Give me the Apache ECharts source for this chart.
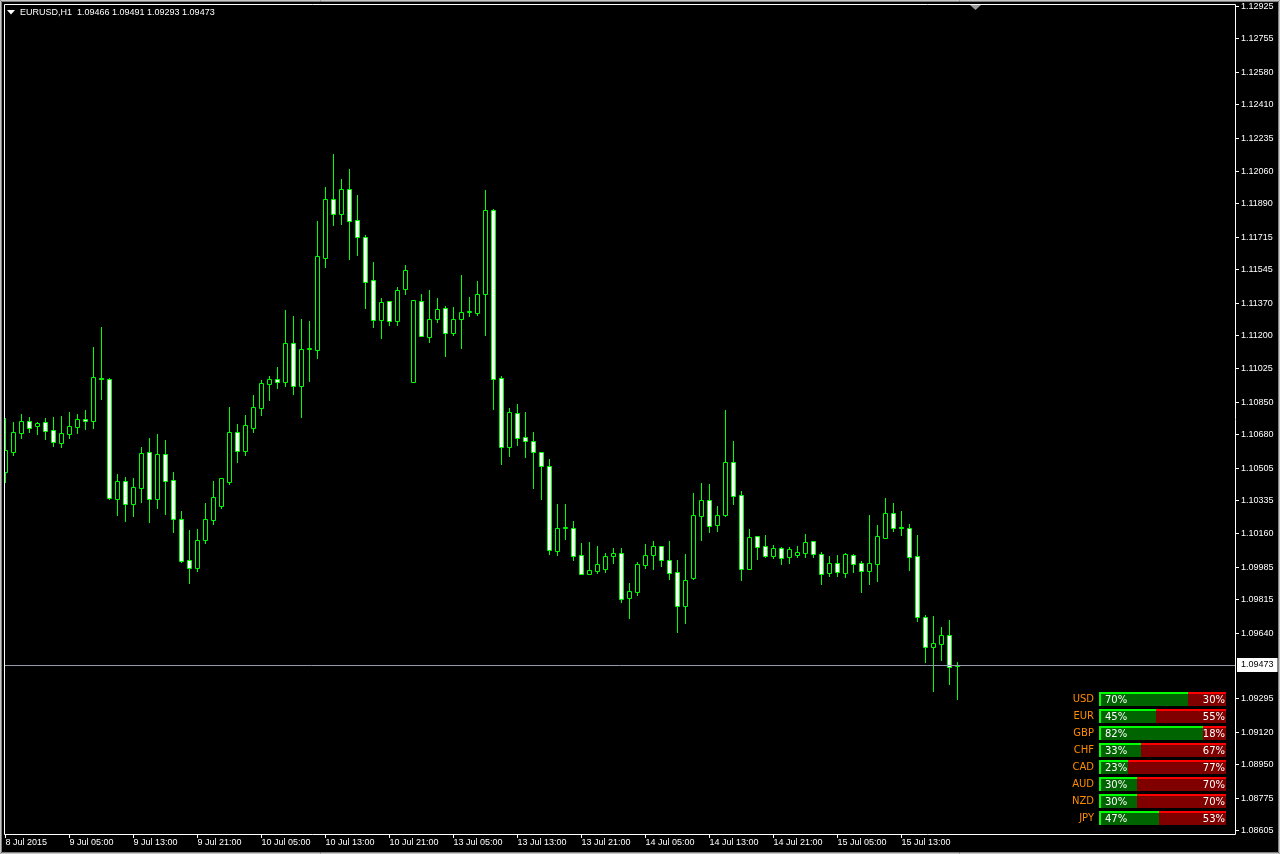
<!DOCTYPE html>
<html>
<head>
<meta charset="utf-8">
<script src="https://cdn.jsdelivr.net/npm/echarts@6/dist/echarts.min.js"></script>
<style>
html,body{margin:0;padding:0;background:#000;}
#chart{width:1280px;height:854px;}
</style>
</head>
<body>
<div id="chart"></div>
<script>
const symbolName = 'EURUSD,H1';

const candleOpen = [
1.10485,1.10590,1.10689,1.10752,1.10726,1.10747,1.10705,1.10637,1.10684,1.10721,
1.10763,1.10752,1.10978,1.10972,1.10343,1.10438,1.10317,1.10401,1.10590,1.10343,
1.10579,1.10443,1.10239,1.10024,1.09982,1.10128,1.10233,1.10307,1.10433,1.10695,
1.10595,1.10716,1.10820,1.10946,1.10972,1.10957,1.11161,1.10936,1.11130,1.11125,
1.11607,1.11916,1.11838,1.11969,1.11806,1.11717,1.11492,1.11282,1.11382,1.11277,
1.11444,1.10957,1.11382,1.11193,1.11287,1.11345,1.11214,1.11287,1.11324,1.11319,
1.11418,1.11859,1.10978,1.10616,1.10794,1.10669,1.10647,1.10590,1.10516,1.10071,
1.10191,1.10191,1.10050,1.09950,1.09966,1.09976,1.10045,1.10060,1.09824,1.09856,
1.09997,1.10050,1.10097,1.10024,1.09961,1.09782,1.09929,1.10254,1.10338,1.10207,
1.10260,1.10537,1.10364,1.09976,1.10149,1.10097,1.10045,1.10086,1.10039,1.10050,
1.10060,1.10123,1.10055,1.09955,1.10008,1.09955,1.10050,1.10008,1.09966,1.10003,
1.10139,1.10270,1.10197,1.10191,1.10045,1.09725,1.09567,1.09583,1.09630,1.09466
];
const candleHigh = [
1.10768,1.10747,1.10789,1.10773,1.10747,1.10768,1.10773,1.10779,1.10799,1.10789,
1.10810,1.11140,1.11245,1.10978,1.10474,1.10459,1.10453,1.10616,1.10663,1.10684,
1.10653,1.10485,1.10280,1.10181,1.10186,1.10322,1.10438,1.10453,1.10826,1.10737,
1.10784,1.10889,1.10967,1.10988,1.11035,1.11334,1.11303,1.11287,1.11277,1.11801,
1.11979,1.12152,1.12021,1.12074,1.11937,1.11728,1.11586,1.11397,1.11382,1.11455,
1.11570,1.11387,1.11418,1.11439,1.11397,1.11355,1.11350,1.11518,1.11402,1.11486,
1.11963,1.11864,1.10988,1.10820,1.10842,1.10799,1.10695,1.10590,1.10553,1.10317,
1.10317,1.10228,1.10113,1.10118,1.10097,1.10060,1.10086,1.10086,1.09903,1.10013,
1.10107,1.10123,1.10097,1.10123,1.10024,1.10055,1.10375,1.10427,1.10422,1.10307,
1.10810,1.10647,1.10385,1.10186,1.10149,1.10155,1.10102,1.10092,1.10092,1.10097,
1.10160,1.10123,1.10066,1.10045,1.10050,1.10060,1.10055,1.10018,1.10260,1.10207,
1.10349,1.10322,1.10280,1.10212,1.10155,1.09735,1.09730,1.09672,1.09709,1.09491
];
const candleLow = [
1.10433,1.10574,1.10663,1.10695,1.10684,1.10658,1.10621,1.10616,1.10663,1.10689,
1.10710,1.10716,1.10868,1.10343,1.10260,1.10228,1.10254,1.10328,1.10223,1.10296,
1.10265,1.10170,1.10013,1.09903,1.09966,1.10113,1.10212,1.10296,1.10422,1.10537,
1.10574,1.10695,1.10784,1.10862,1.10925,1.10936,1.10894,1.10773,1.10962,1.11083,
1.11560,1.11780,1.11785,1.11602,1.11623,1.11345,1.11245,1.11188,1.11256,1.11256,
1.11418,1.10957,1.11198,1.11166,1.11271,1.11093,1.11203,1.11135,1.11303,1.11308,
1.11203,1.10815,1.10527,1.10569,1.10627,1.10564,1.10401,1.10343,1.10055,1.10050,
1.10134,1.10024,1.09950,1.09950,1.09955,1.09961,1.10008,1.09803,1.09719,1.09840,
1.09982,1.09976,1.09992,1.09924,1.09646,1.09693,1.09924,1.10128,1.10170,1.10176,
1.10254,1.10317,1.09919,1.09976,1.10029,1.10039,1.10034,1.10003,1.10008,1.10039,
1.10039,1.10039,1.09898,1.09940,1.09940,1.09934,1.09961,1.09856,1.09898,1.09913,
1.10139,1.10176,1.10155,1.09971,1.09704,1.09489,1.09337,1.09499,1.09373,1.09293
];
const candleClose = [
1.10600,1.10695,1.10752,1.10716,1.10742,1.10700,1.10642,1.10689,1.10726,1.10763,
1.10752,1.10983,1.10972,1.10349,1.10438,1.10317,1.10406,1.10585,1.10343,1.10579,
1.10438,1.10239,1.10018,1.09982,1.10128,1.10239,1.10354,1.10453,1.10695,1.10595,
1.10731,1.10826,1.10952,1.10972,1.10957,1.11161,1.10936,1.11130,1.11135,1.11617,
1.11916,1.11838,1.11969,1.11801,1.11717,1.11481,1.11282,1.11376,1.11277,1.11439,
1.11544,1.11387,1.11198,1.11287,1.11340,1.11214,1.11287,1.11324,1.11327,1.11418,
1.11859,1.10972,1.10616,1.10799,1.10663,1.10647,1.10590,1.10516,1.10076,1.10191,
1.10194,1.10045,1.09950,1.09971,1.10003,1.10045,1.10060,1.09819,1.09861,1.10003,
1.10050,1.10097,1.10024,1.09955,1.09782,1.09919,1.10260,1.10338,1.10202,1.10260,
1.10537,1.10359,1.09976,1.10144,1.10092,1.10045,1.10086,1.10034,1.10081,1.10066,
1.10118,1.10055,1.09950,1.10008,1.09961,1.10055,1.10003,1.09966,1.10008,1.10149,
1.10270,1.10191,1.10191,1.10039,1.09725,1.09567,1.09588,1.09630,1.09463,1.09473
];

const xTickLabels = ['8 Jul 2015','9 Jul 05:00','9 Jul 13:00','9 Jul 21:00','10 Jul 05:00',
  '10 Jul 13:00','10 Jul 21:00','13 Jul 05:00','13 Jul 13:00','13 Jul 21:00','14 Jul 05:00',
  '14 Jul 13:00','14 Jul 21:00','15 Jul 05:00','15 Jul 13:00'];
const barsPerXLabel = 8;

const priceTickLabels = ['1.12925','1.12755','1.12580','1.12410','1.12235','1.12060','1.11890',
  '1.11715','1.11545','1.11370','1.11200','1.11025','1.10850','1.10680','1.10505','1.10335',
  '1.10160','1.09985','1.09815','1.09640','1.09295','1.09120','1.08950','1.08775','1.08605'];

const currencies = ['USD','EUR','GBP','CHF','CAD','AUD','NZD','JPY'];
const bullPct = [70,45,82,33,23,30,30,47];
const bearPct = [30,55,18,67,77,70,70,53];

// ---------- build ----------
const candleData = candleOpen.map((o, i) => [i, o, candleClose[i], candleLow[i], candleHigh[i]]);
const last = candleOpen.length - 1;
const xTickValues = xTickLabels.map((_, k) => k * barsPerXLabel);
const yTickValues = priceTickLabels.map(s => parseFloat(s));
const panelData = currencies.map((c, i) => [i, bullPct[i], bearPct[i]]);

const X_MIN = -0.1875, X_MAX = -0.1875 + 1231 / 8;
const Y_MIN = 1.0858698, Y_MAX = 1.1293842;

const FONT = 'Liberation Sans, Arial, sans-serif';
const PFONT = 'DejaVu Sans, sans-serif';

const chart = echarts.init(document.getElementById('chart'), null, {renderer: 'canvas', width: 1280, height: 854});

function renderCandle(params, api) {
  const idx = api.value(0);
  const o = api.value(1), c = api.value(2), l = api.value(3), h = api.value(4);
  const pO = api.coord([idx, o]);
  const cx = Math.floor(pO[0]) + 0.5;
  const yO = Math.round(pO[1]);
  const yC = Math.round(api.coord([idx, c])[1]);
  const yL = Math.round(api.coord([idx, l])[1]);
  const yH = Math.round(api.coord([idx, h])[1]);
  const top = Math.min(yO, yC), bot = Math.max(yO, yC);
  const bear = c < o;
  return {
    type: 'group',
    children: [
      {type: 'line', shape: {x1: cx, y1: yH, x2: cx, y2: yL + 1},
       style: {stroke: '#00ff00', lineWidth: 1}},
      {type: 'rect', shape: {x: cx - 2, y: top + 0.5, width: 4, height: Math.max(1, bot - top)},
       style: {fill: bear ? '#ffffff' : '#000000', stroke: '#00ff00', lineWidth: 1}}
    ]
  };
}

// price-axis tick marks (right side, outside the frame)
function renderYTick(params, api) {
  const p = api.coord([X_MAX, api.value(0)]);
  const x = Math.round(p[0]);
  const y = Math.floor(p[1]) + 0.5;
  return {type: 'line', shape: {x1: x + 1, y1: y, x2: x + 4, y2: y}, style: {stroke: '#ffffff', lineWidth: 1}};
}
// time-axis tick marks (bottom, outside the frame)
function renderXTick(params, api) {
  const p = api.coord([api.value(0), Y_MIN]);
  const x = Math.floor(p[0]) + 0.5;
  const y = Math.round(p[1]);
  return {type: 'line', shape: {x1: x, y1: y + 1, x2: x, y2: y + 4}, style: {stroke: '#ffffff', lineWidth: 1}};
}

function renderPanel(params, api) {
  const i = api.value(0), g = api.value(1), r = api.value(2);
  const p0 = api.coord([0, i]);
  const x0 = Math.round(p0[0]);
  const x1 = Math.round(api.coord([100, i])[0]);
  const xs = Math.round(api.coord([g, i])[0]);
  const top = Math.floor(p0[1] - 7.5);
  const H = 14;
  return {
    type: 'group',
    children: [
      {type: 'rect', shape: {x: x0, y: top, width: xs - x0, height: H}, style: {fill: '#006400'}},
      {type: 'rect', shape: {x: xs, y: top, width: x1 - xs, height: H}, style: {fill: '#800000'}},
      {type: 'rect', shape: {x: x0, y: top, width: xs - x0, height: 2}, style: {fill: '#00ff00'}},
      {type: 'rect', shape: {x: xs, y: top, width: x1 - xs, height: 2}, style: {fill: '#ff0000'}},
      {type: 'rect', shape: {x: x0, y: top, width: 2, height: H}, style: {fill: '#00ff00'}},
      {type: 'text', style: {text: g + '%', x: x0 + 6, y: top + 8, verticalAlign: 'middle', align: 'left',
        fill: '#ffffff', font: '10px ' + PFONT}},
      {type: 'text', style: {text: r + '%', x: x1 - 1, y: top + 8, verticalAlign: 'middle', align: 'right',
        fill: '#ffffff', font: '10px ' + PFONT}}
    ]
  };
}

const headerText = symbolName + '  ' + [candleOpen[last], candleHigh[last], candleLow[last], candleClose[last]]
  .map(v => v.toFixed(5)).join(' ');

const option = {
  backgroundColor: '#000000',
  animation: false,
  grid: [
    {left: 4, top: 4, width: 1231, height: 830, show: false},
    {left: 1099, top: 691, width: 127, height: 136, show: false}
  ],
  xAxis: [
    {
      type: 'value', gridIndex: 0, min: X_MIN, max: X_MAX,
      axisLine: {show: false},
      splitLine: {show: false},
      axisTick: {show: false},
      axisLabel: {
        show: true, customValues: xTickValues, align: 'left', margin: 4,
        color: '#ffffff', fontSize: 9, fontFamily: FONT,
        formatter: v => xTickLabels[Math.round(v / barsPerXLabel)] || ''
      }
    },
    {type: 'value', gridIndex: 1, min: 0, max: 100, show: false}
  ],
  yAxis: [
    {
      type: 'value', gridIndex: 0, position: 'right',
      min: Y_MIN, max: Y_MAX,
      axisLine: {show: false},
      splitLine: {show: false},
      axisTick: {show: false},
      axisLabel: {
        show: true, customValues: yTickValues, margin: 6,
        color: '#ffffff', fontSize: 9, fontFamily: FONT,
        formatter: v => v.toFixed(5)
      }
    },
    {
      type: 'category', gridIndex: 1, data: currencies, inverse: true,
      axisLine: {show: false}, axisTick: {show: false}, splitLine: {show: false},
      axisLabel: {color: '#FF8C00', fontSize: 10, fontFamily: PFONT, margin: 5}
    }
  ],
  series: [
    {
      type: 'custom', name: 'EURUSD', xAxisIndex: 0, yAxisIndex: 0,
      data: candleData, renderItem: renderCandle, clip: true,
      encode: {x: 0, y: [1, 2, 3, 4]},
      markLine: {
        silent: true, symbol: ['none', 'none'], animation: false, precision: 5,
        lineStyle: {color: '#8f9bab', width: 1, type: 'solid'},
        label: {
          show: true, position: 'end', distance: 2,
          formatter: p => Number(p.value).toFixed(5),
          backgroundColor: '#ffffff', color: '#000000', padding: [3, 4, 2, 4],
          fontSize: 9, fontFamily: FONT
        },
        data: [{yAxis: candleClose[last]}]
      }
    },
    {
      type: 'custom', name: 'yTicks', xAxisIndex: 0, yAxisIndex: 0, clip: false, silent: true,
      data: yTickValues.map(v => [v]), renderItem: renderYTick, encode: {y: 0}
    },
    {
      type: 'custom', name: 'xTicks', xAxisIndex: 0, yAxisIndex: 0, clip: false, silent: true,
      data: xTickValues.map(v => [v]), renderItem: renderXTick, encode: {x: 0}
    },
    {
      type: 'custom', name: 'strength', xAxisIndex: 1, yAxisIndex: 1,
      data: panelData, renderItem: renderPanel,
      encode: {x: [1, 2], y: 0}
    }
  ],
  graphic: [
    {type: 'rect', silent: true, z: 100, shape: {x: 0.5, y: 0.5, width: 1279, height: 853},
     style: {fill: null, stroke: '#c8c8c8', lineWidth: 1}},
    {type: 'rect', silent: true, z: 100, shape: {x: 1.5, y: 1.5, width: 1277, height: 851},
     style: {fill: null, stroke: '#808080', lineWidth: 1}},
    {type: 'rect', silent: true, z: 100, shape: {x: 4.5, y: 4.5, width: 1231, height: 830},
     style: {fill: null, stroke: '#ffffff', lineWidth: 1}},
    {type: 'polygon', silent: true, z: 100, shape: {points: [[7, 10], [15, 10], [11, 14.5]]},
     style: {fill: '#ffffff'}},
    {type: 'text', silent: true, z: 100, style: {text: headerText, x: 20, y: 13, verticalAlign: 'middle',
      fill: '#ffffff', font: '9px ' + FONT}},
    {type: 'polygon', silent: true, z: 100, shape: {points: [[970, 5], [981, 5], [975.5, 10]]},
     style: {fill: '#9a9a9a'}}
  ]
};

chart.setOption(option);
</script>
</body>
</html>
